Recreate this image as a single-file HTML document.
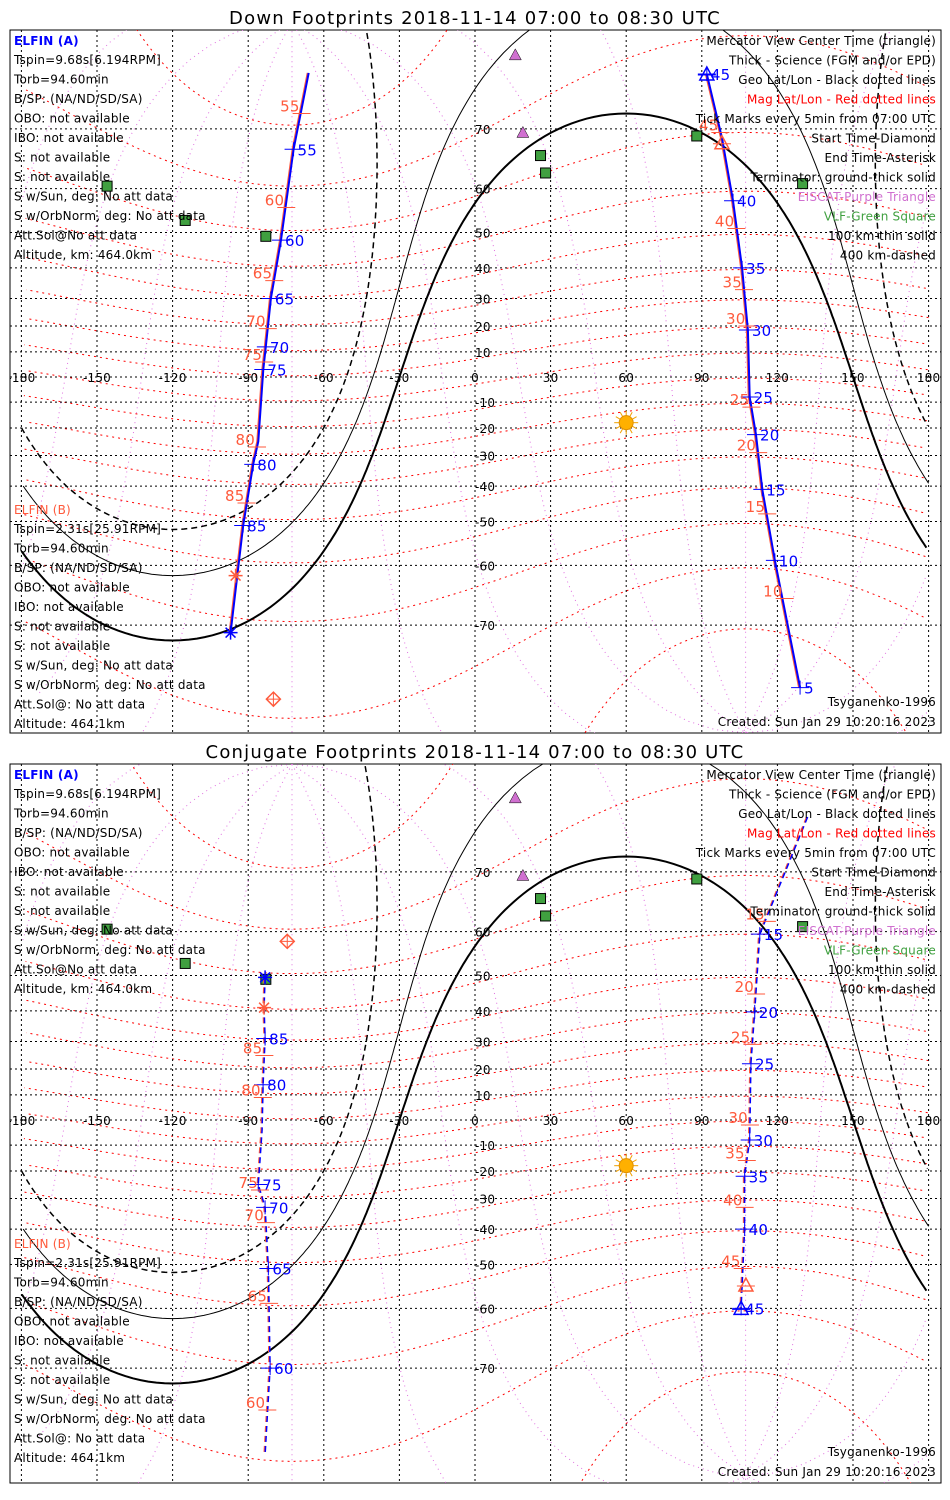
<!DOCTYPE html>
<html><head><meta charset="utf-8">
<style>
body{margin:0;background:#fff;width:950px;height:1500px;overflow:hidden;font-family:"DejaVu Sans","Liberation Sans",sans-serif}
svg{position:absolute;left:0;top:0}
text{font-family:"DejaVu Sans","Liberation Sans",sans-serif;letter-spacing:0.2px}
text.title{letter-spacing:1.2px}
</style></head>
<body>
<svg id="chart" width="950" height="1500"></svg>
<script>
// ---- data (geographic lon/lat) ----
const lonTicks=[-180,-150,-120,-90,-60,-30,0,30,60,90,120,150,180];
const latTicks=[-70,-60,-50,-40,-30,-20,-10,0,10,20,30,40,50,60,70];
const vlfLon=[-146,-115,-83,26,28,88,130];
const vlfLat=[60.5,53,49,66,63,69,61];
const eiscatLon=[16,19];
const eiscatLat=[78,69.5];
const sunLon=60, sunLat=-18;
// down footprints, track 1 (left)
const d1Lon=[-66,-72,-77,-81,-83,-84,-86,-88,-92,-97];
const d1Lat=[76.4,67,48,30,12,3,-25,-33,-51,-71];
const d1Lab=["","55","60","65","70","75","","80","85",""];
const d1OrLab=["55","60","65","70","75","80","85"];
const d1OrLat=[72,56,36,19,6,-27,-45];
// down track 2 (right)
const d2Lon=[92,98,102.4,106,108.3,109,111.5,114,119,129];
const d2Lat=[76.3,68.7,57.5,40,18.5,-8,-22.5,-41,-59,-77];
const d2Lab=["45","","40","35","30","25","20","15","10","5"];
const d2OrLab=["45","40","35","30","25","20","15","10"];
const d2OrLat=[69.5,51,33,20,-12,-29,-48,-66];
// conjugate track 1
const c1Lon=[-83.3,-83.7,-83.3,-84.1,-84.5,-86,-83.3,-82,-81.3,-83.3];
const c1Lat=[49.5,41,31,14,-4,-25,-33,-51,-70,-79];
const c1Lab=["","","85","80","","75","70","65","60",""];
const c1OrLab=["85","80","75","70","65","60"];
const c1OrLat=[25,9,-27,-38,-59,-75];
// conjugate track 2
const c2Lon=[132,113,111,109.5,109,107,107,105.6];
const c2Lat=[76.3,59.5,39.7,22,-8,-22,-40,-60];
const c2Lab=["","15","20","25","30","35","40","45"];
const c2OrLab=["15","20","25","30","35","40","45"];
const c2OrLat=[62,45,29,-2,-16,-33,-51];

const NS='http://www.w3.org/2000/svg';
const svg=document.getElementById('chart');
function el(tag,attrs,parent){const e=document.createElementNS(NS,tag);for(const k in attrs)e.setAttribute(k,attrs[k]);(parent||svg).appendChild(e);return e;}
const R=Math.PI/180;
function X(lon){return 475+lon*2.52;}
function Ymk(base){return lat=>base-143*Math.log(Math.tan(Math.PI/4+lat*R/2));}
function dest(lat0,lon0,d,b){const p0=lat0*R,l0=lon0*R,dd=d*R,bb=b*R;
 const la=Math.asin(Math.sin(p0)*Math.cos(dd)+Math.cos(p0)*Math.sin(dd)*Math.cos(bb));
 let lo=l0+Math.atan2(Math.sin(bb)*Math.sin(dd)*Math.cos(p0),Math.cos(dd)-Math.sin(p0)*Math.sin(la));
 lo=lo/R;while(lo>180)lo-=360;while(lo<-180)lo+=360;return [la/R,lo];}
function pathFrom(pts,Y){let d='',prev=null;
 for(const p of pts){if(Math.abs(p[0])>84){prev=null;continue;}
  const x=X(p[1]),y=Y(p[0]);
  if(prev===null||Math.abs(p[1]-prev)>90)d+='M'+x.toFixed(1)+' '+y.toFixed(1);else d+='L'+x.toFixed(1)+' '+y.toFixed(1);
  prev=p[1];}
 return d;}
function txt(s,x,y,fill,size,anchor,g,name){const t=el('text',{x:x,y:y,fill:fill,'font-size':size||12,'text-anchor':anchor||'start'},g);t.textContent=s;
 
 return t;}

const leftA=["Tspin=9.68s[6.194RPM]","Torb=94.60min","B/SP: (NA/ND/SD/SA)","OBO: not available","IBO: not available","S: not available","S: not available","S w/Sun, deg: No att data","S w/OrbNorm, deg: No att data","Att.Sol@No att data","Altitude, km: 464.0km"];
const leftB=["Tspin=2.31s[25.91RPM]","Torb=94.60min","B/SP: (NA/ND/SD/SA)","OBO: not available","IBO: not available","S: not available","S: not available","S w/Sun, deg: No att data","S w/OrbNorm, deg: No att data","Att.Sol@: No att data","Altitude: 464.1km"];
const rightT=[["Mercator View Center Time (triangle)","#000"],["Thick - Science (FGM and/or EPD)","#000"],["Geo Lat/Lon - Black dotted lines","#000"],["Mag Lat/Lon - Red dotted lines","#f00"],["Tick Marks every 5min from 07:00 UTC","#000"],["Start Time-Diamond","#000"],["End Time-Asterisk","#000"],["Terminator: ground-thick solid","#000"],["EISCAT-Purple Triangle","#d070d0"],["VLF-Green Square","#40a040"],["100 km-thin solid","#000"],["400 km-dashed","#000"]];

function track(g,Y,lon,lat,lab,orLab,orLat,dashed){
 const pts=lon.map((l,i)=>[lat[i],l]);
 const dO=pts.map((p,i)=>(i?'L':'M')+(X(p[1])-1).toFixed(1)+' '+Y(p[0]).toFixed(1)).join('');
 const dB=pts.map((p,i)=>(i?'L':'M')+X(p[1]).toFixed(1)+' '+Y(p[0]).toFixed(1)).join('');
 const o=el('path',{d:dO,stroke:'#ff5a3c',fill:'none','stroke-width':dashed?1.5:2,'stroke-dasharray':dashed?'6 4':'none'},g);
 
 
 const b=el('path',{d:dB,stroke:'#0000ff',fill:'none','stroke-width':dashed?1.5:2,'stroke-dasharray':dashed?'6 4':'none'},g);
 
 
 lab.forEach((s,i)=>{if(!s)return;const x=X(lon[i]),y=Y(lat[i]);
  el('line',{x1:x-9,y1:y,x2:x+9,y2:y,stroke:'#00f'},g);el('line',{x1:x,y1:y-7,x2:x,y2:y+7,stroke:'#00f'},g);
  txt(s,x+4,y+6,'#00f',15,'start',g,'elfin-a-tick-label');});
 orLab.forEach((s,i)=>{const la=orLat[i];
  let lo=lon[0];for(let k=0;k<lat.length-1;k++){if((lat[k]-la)*(lat[k+1]-la)<=0){const t=(la-lat[k])/(lat[k+1]-lat[k]);lo=lon[k]+t*(lon[k+1]-lon[k]);break;}}
  const x=X(lo),y=Y(la);
  el('line',{x1:x-9,y1:y,x2:x+9,y2:y,stroke:'#ff5a3c'},g);
  txt(s,x-2,y-2,'#ff5a3c',15,'end',g,'elfin-b-tick-label');});
}

function panel(top,title,base,tracks,extra){
 const g=el('g',{});
 
 
 const tt=txt(title,475,top-6,'#000',18,'middle',g,'panel-title');tt.setAttribute('class','title');
 const bot=top+703+(top>400?16:0);
 el('rect',{x:10,y:top,width:931,height:bot-top,fill:'#fff',stroke:'#000'},g);
 const cid='clip'+top;const cp=el('clipPath',{id:cid},g);el('rect',{x:10,y:top,width:931,height:bot-top},cp);
 const m=el('g',{'clip-path':'url(#'+cid+')'},g);
 const Y=Ymk(base);
 for(let b=0;b<360;b+=30){const pts=[];for(let d=0;d<=180;d+=2)pts.push(dest(80.5,-72.6,d,b));
  el('path',{d:pathFrom(pts,Y),stroke:'#e070e0',fill:'none','stroke-dasharray':'1 4'},m);}
 for(let ml=-80;ml<=80;ml+=10){const pts=[];for(let b=0;b<=360;b+=3)pts.push(dest(80.5,-72.6,90-ml,b));
  el('path',{d:pathFrom(pts,Y),stroke:'#f00',fill:'none','stroke-dasharray':'2 4'},m);}
 lonTicks.forEach(l=>el('line',{x1:X(l),y1:top,x2:X(l),y2:bot,stroke:'#000','stroke-dasharray':'2 3'},m));
 latTicks.forEach(l=>el('line',{x1:10,y1:Y(l),x2:941,y2:Y(l),stroke:'#000','stroke-dasharray':'2 3'},m));
 lonTicks.forEach(l=>{txt(String(l),X(l),base+5,'#000',12,'middle',m,'lon-tick-label');});
 latTicks.forEach(l=>{if(l!==0)txt(String(l),X(0),Y(l)+5,'#000',12,'start',m,'lat-tick-label');});
 [[90,2,'none'],[100,1,'none'],[110,1.5,'6 4']].forEach(tm=>{const pts=[];for(let b=0;b<=360;b+=1)pts.push(dest(sunLat,sunLon,tm[0],b));
  const p=el('path',{d:pathFrom(pts,Y),stroke:'#000',fill:'none','stroke-width':tm[1],'stroke-dasharray':tm[2]},m);
  
  });
 const sx=X(sunLon),sy=Y(sunLat);
 for(let a=0;a<360;a+=30)el('line',{x1:sx+7*Math.cos(a*R),y1:sy+7*Math.sin(a*R),x2:sx+12*Math.cos(a*R),y2:sy+12*Math.sin(a*R),stroke:'#f0a000'},m);
 const sc=el('circle',{cx:sx,cy:sy,r:7,fill:'#ffb000',stroke:'#e09000'},m);
 
 
 vlfLon.forEach((l,i)=>{const r=el('rect',{x:X(l)-5,y:Y(vlfLat[i])-5,width:10,height:10,fill:'#40a040',stroke:'#000'},m);
  
  });
 eiscatLon.forEach((l,i)=>{const x=X(l),y=Y(eiscatLat[i]);const p=el('path',{d:`M${x} ${y-6}L${x+6} ${y+5}L${x-6} ${y+5}Z`,fill:'#d070d0',stroke:'#000','stroke-width':0.5},m);
  
  });
 tracks.forEach(t=>track(m,Y,...t));
 extra(m,Y);
 txt('ELFIN (A)',14,top+15,'#0000ff',12,'start',g,'elfin-a-heading').setAttribute('font-weight','bold');
 leftA.forEach((s,i)=>txt(s,14,top+34+i*19.5,'#000',12,'start',g,'elfin-a-info'));
 txt('ELFIN (B)',14,top+484,'#ff5a3c',12,'start',g,'elfin-b-heading');
 leftB.forEach((s,i)=>txt(s,14,top+503+i*19.5,'#000',12,'start',g,'elfin-b-info'));
 rightT.forEach((s,i)=>txt(s[0],936,top+15+i*19.5,s[1],12,'end',g,'legend-entry'));
 txt('Tsyganenko-1996',936,bot-27,'#000',12,'end',g,'model-label');
 txt('Created: Sun Jan 29 10:20:16 2023',936,bot-7,'#000',12,'end',g,'created-label');
}
function star(m,x,y,c){for(let a=0;a<180;a+=45)el('line',{x1:x-7*Math.cos(a*R),y1:y-7*Math.sin(a*R),x2:x+7*Math.cos(a*R),y2:y+7*Math.sin(a*R),stroke:c,'stroke-width':1.5},m);}
function diamond(m,x,y,c){el('path',{d:`M${x} ${y-7}L${x+7} ${y}L${x} ${y+7}L${x-7} ${y}Z`,fill:'none',stroke:c,'stroke-width':1.5},m);el('line',{x1:x-7,y1:y,x2:x+7,y2:y,stroke:c},m);el('line',{x1:x,y1:y-7,x2:x,y2:y+7,stroke:c},m);}
function tri(m,x,y,c){el('path',{d:`M${x} ${y-7}L${x+7} ${y+6}L${x-7} ${y+6}Z`,fill:'none',stroke:c,'stroke-width':1.5},m);el('line',{x1:x-9,y1:y+1,x2:x+9,y2:y+1,stroke:c},m);}

panel(30,'Down Footprints 2018-11-14 07:00 to 08:30 UTC',377,
 [[d1Lon,d1Lat,d1Lab,d1OrLab,d1OrLat,false],[d2Lon,d2Lat,d2Lab,d2OrLab,d2OrLat,false]],
 (m,Y)=>{star(m,X(d1Lon[9]),Y(d1Lat[9]),'#00f');star(m,X(-95),Y(-62),'#ff5a3c');diamond(m,X(-80),Y(-78),'#ff5a3c');
  tri(m,X(d2Lon[0]),Y(d2Lat[0]),'#00f');tri(m,X(98),Y(68),'#ff5a3c');});
panel(764,'Conjugate Footprints 2018-11-14 07:00 to 08:30 UTC',1120,
 [[c1Lon,c1Lat,c1Lab,c1OrLab,c1OrLat,true],[c2Lon,c2Lat,c2Lab,c2OrLab,c2OrLat,true]],
 (m,Y)=>{star(m,X(c1Lon[0]),Y(c1Lat[0]),'#00f');star(m,X(c1Lon[1]),Y(c1Lat[1]),'#ff5a3c');diamond(m,X(-74.5),Y(58),'#ff5a3c');
  tri(m,X(c2Lon[7]),Y(c2Lat[7]),'#00f');tri(m,X(107.5),Y(-55),'#ff5a3c');});
</script>
</body></html>
